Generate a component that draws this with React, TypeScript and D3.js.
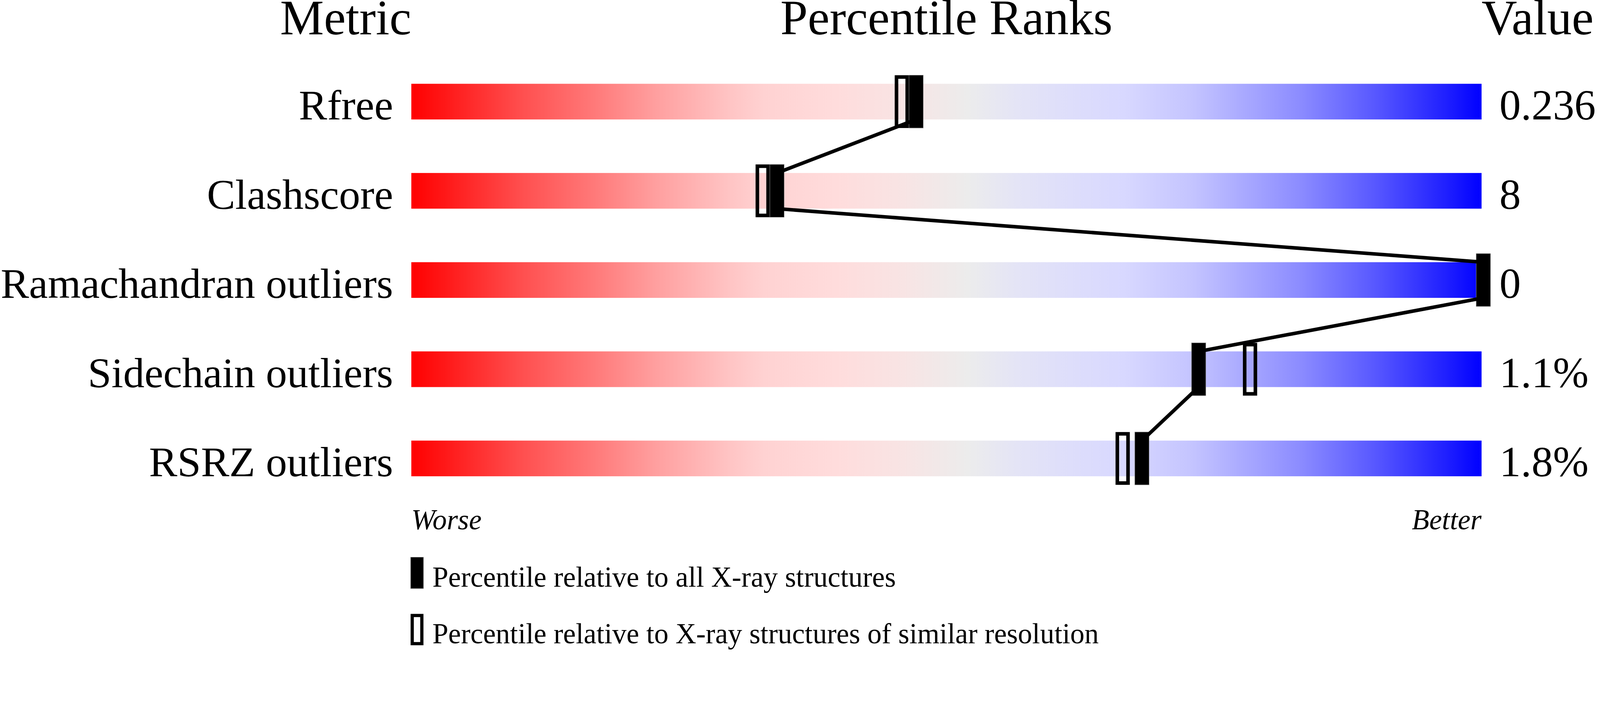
// Percentile-rank slider chart (validation report style), drawn with D3 scales in JSX
import * as d3 from "d3"

const metrics = ["Rfree", "Clashscore", "Ramachandran outliers", "Sidechain outliers", "RSRZ outliers"]
const valueLabels = ["0.236", "8", "0", "1.1%", "1.8%"]
// percentile relative to all X-ray structures (filled markers)
const pctAll = [47, 34, 100, 73.4, 68.1]
// percentile relative to structures of similar resolution (open markers)
const pctSimilar = [46, 33, 100, 78.2, 66.3]
const headers = ["Metric", "Percentile Ranks", "Value"]
const legendLabels = [
  "Percentile relative to all X-ray structures",
  "Percentile relative to X-ray structures of similar resolution",
]

const W = 4485
const H = 1824
const FONT = "'Liberation Serif', 'Times New Roman', serif"

// colour ramp along the bar (worse -> better)
const rampStops: [number, string][] = [
  [0, "#ff0000"], [0.105, "#ff5050"], [0.166, "#ff7676"], [0.23, "#ffa0a0"],
  [0.297, "#ffc4c4"], [0.33, "#ffd2d2"], [0.396, "#ffdcdc"], [0.46, "#f8e4e4"],
  [0.52, "#ececec"], [0.566, "#e4e4f6"], [0.63, "#dcdcfc"], [0.666, "#d8d8ff"],
  [0.73, "#c4c4ff"], [0.83, "#8c8cff"], [0.9, "#5858ff"], [0.966, "#2020ff"], [1, "#0000ff"],
]

export default function App() {
  const x = d3.scaleLinear().domain([0, 100]).range([1153, 4153])
  const y = d3.scaleBand<string>().domain(metrics).range([235, 1336]).paddingInner(0.6).paddingOuter(0)
  const bw = y.bandwidth()

  const markerW = 40
  const overhang = 24
  const nudge = 5

  const rows = metrics.map((m, i) => {
    const cxAll = x(pctAll[i]) + nudge
    let cxSim = x(pctSimilar[i]) + nudge
    // keep the two markers side by side when they would overlap
    if (pctSimilar[i] !== pctAll[i] && Math.abs(cxSim - cxAll) < markerW) {
      cxSim = cxAll + Math.sign(cxSim - cxAll) * markerW
    }
    const top = y(m)!
    return { m, i, top, bottom: top + bw, cxAll, cxSim }
  })

  // zig-zag line: bottom of each bar to the top of the next, through the filled markers
  const pts: [number, number][] = []
  rows.forEach((r, i) => {
    if (i > 0) pts.push([r.cxAll, r.top])
    if (i < rows.length - 1) pts.push([r.cxAll, r.bottom])
  })
  const linePath = d3.line()(pts) || ""

  return (
    <svg viewBox={`0 0 ${W} ${H}`} preserveAspectRatio="xMinYMin meet"
      style={{ position: "fixed", left: 0, top: 0, width: "100vw", height: "100vh", background: "#fff", display: "block" }}
      fontFamily={FONT}>
      <defs>
        <linearGradient id="ramp" gradientUnits="userSpaceOnUse" x1={x(0)} x2={x(100)} y1={0} y2={0}>
          {rampStops.map(([o, c]) => <stop key={o} offset={o} stopColor={c} />)}
        </linearGradient>
      </defs>

      {/* headers */}
      <text x={x(0)} y={96} fontSize={138} textAnchor="end">{headers[0]}</text>
      <text x={(x(0) + x(100)) / 2} y={96} fontSize={138} textAnchor="middle">{headers[1]}</text>
      <text x={x(100)} y={96} fontSize={138} textAnchor="start">{headers[2]}</text>

      {rows.map(r => (
        <g key={r.m}>
          <text x={1102} y={r.bottom} fontSize={119} textAnchor="end">{r.m}</text>
          <rect x={x(0)} y={r.top} width={x(100) - x(0)} height={bw} fill="url(#ramp)" />
          <text x={4203} y={r.bottom} fontSize={120}>{valueLabels[r.i]}</text>
        </g>
      ))}

      {rows.map(r => (
        <g key={r.m + "-m"}>
          <rect x={r.cxSim - markerW / 2 + 5} y={r.top - overhang + 5} width={markerW - 10} height={bw + 2 * overhang - 10}
            fill="none" stroke="#000" strokeWidth={10} />
          <rect x={r.cxAll - markerW / 2} y={r.top - overhang} width={markerW} height={bw + 2 * overhang}
            fill="#000" stroke="#808080" strokeWidth={1.2} />
        </g>
      ))}

      <path d={linePath} fill="none" stroke="#000" strokeWidth={10} />

      {/* axis ends */}
      <text x={x(0)} y={1485} fontSize={80} fontStyle="italic">Worse</text>
      <text x={x(100)} y={1485} fontSize={80} fontStyle="italic" textAnchor="end">Better</text>

      {/* legend */}
      <rect x={x(0) - 2} y={1563} width={36} height={88} fill="#000" stroke="#808080" strokeWidth={1.2} />
      <text x={1212} y={1646} fontSize={80}>{legendLabels[0]}</text>
      <rect x={x(0) - 2 + 4.5} y={1722 + 4.5} width={27} height={79} fill="none" stroke="#000" strokeWidth={9} />
      <text x={1212} y={1804} fontSize={80}>{legendLabels[1]}</text>
    </svg>
  )
}
